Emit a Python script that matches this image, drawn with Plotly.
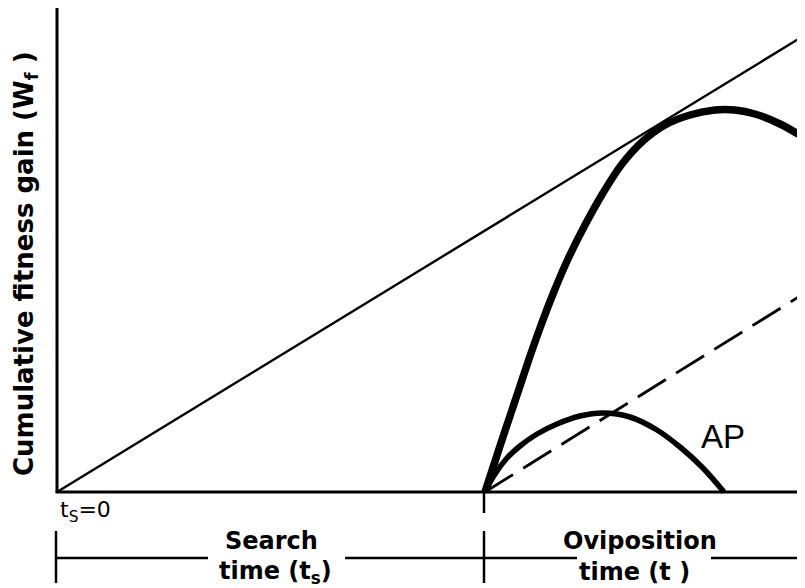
import plotly.graph_objects as go

# ---- data (arbitrary units: x = time, y = cumulative fitness gain) ----
x_end = 7.48          # right end of time axis
y_top = 4.84          # top of fitness axis
search_end = 4.27     # boundary between search time and oviposition time

# straight tangent line from t_s = 0
tangent_x = [0.0, 7.48]
tangent_y = [0.0, 4.57]

# dashed average-rate line from the start of oviposition
rate_x = [4.28, 7.48]
rate_y = [0.0, 1.99]

# thick gain curve
gain_x = [4.28, 4.43, 4.58, 4.71, 4.83, 4.96, 5.11, 5.28, 5.46, 5.65, 5.86,
          6.08, 6.33, 6.58, 6.78, 6.98, 7.23, 7.46]
gain_y = [0.00, 0.46, 0.91, 1.30, 1.64, 1.98, 2.33, 2.67, 2.99, 3.28, 3.51,
          3.67, 3.77, 3.82, 3.82, 3.78, 3.68, 3.55]

# AP curve
ap_x = [4.28, 4.38, 4.50, 4.63, 4.80, 5.00, 5.23, 5.46, 5.73, 6.00, 6.23, 6.45, 6.67]
ap_y = [0.00, 0.18, 0.34, 0.46, 0.58, 0.68, 0.76, 0.79, 0.75, 0.62, 0.45, 0.25, 0.00]

# bracket below the axis
bracket_y = -0.66
bracket_segments = [(-0.01, 1.51), (2.88, 5.20), (6.54, 7.48)]
bracket_ticks = [-0.01, search_end, 7.47]

fig = go.Figure()

fig.add_trace(go.Scatter(x=rate_x, y=rate_y, mode="lines",
                         line=dict(color="black", width=2.8, dash="33px,12px")))
fig.add_trace(go.Scatter(x=tangent_x, y=tangent_y, mode="lines",
                         line=dict(color="black", width=2.4)))
fig.add_trace(go.Scatter(x=ap_x, y=ap_y, mode="lines",
                         line=dict(color="black", width=5.5, shape="spline", smoothing=1)))
fig.add_trace(go.Scatter(x=gain_x, y=gain_y, mode="lines",
                         line=dict(color="black", width=7.5, shape="spline", smoothing=1)))

shapes = []
# axes
shapes.append(dict(type="line", x0=0, x1=0, y0=0, y1=y_top,
                   line=dict(color="black", width=3)))
shapes.append(dict(type="line", x0=-0.015, x1=x_end, y0=0, y1=0,
                   line=dict(color="black", width=3)))
# tick under the axis at the end of search
shapes.append(dict(type="line", x0=search_end, x1=search_end, y0=0, y1=-0.21,
                   line=dict(color="black", width=2.5)))
# bracket
for a, b in bracket_segments:
    shapes.append(dict(type="line", x0=a, x1=b, y0=bracket_y, y1=bracket_y,
                       line=dict(color="black", width=2.5)))
for t in bracket_ticks:
    shapes.append(dict(type="line", x0=t, x1=t, y0=-0.39, y1=-0.91,
                       line=dict(color="black", width=2.5)))

bold = dict(family="DejaVu Sans", size=24, color="black", weight="bold")

annotations = [
    dict(x=-0.32, y=2.28, text="Cumulative fitness gain (W<sub>f</sub> )",
         textangle=-90, showarrow=False, font=dict(bold, size=26),
         xanchor="center", yanchor="middle"),
    dict(x=2.14, y=-0.49, text="Search", showarrow=False, font=bold,
         xanchor="center", yanchor="middle"),
    dict(x=2.18, y=-0.80, text="time (t<sub>s</sub>)", showarrow=False, font=bold,
         xanchor="center", yanchor="middle"),
    dict(x=5.83, y=-0.49, text="Oviposition", showarrow=False, font=bold,
         xanchor="center", yanchor="middle"),
    dict(x=5.77, y=-0.80, text="time (t )", showarrow=False, font=bold,
         xanchor="center", yanchor="middle"),
    dict(x=0.28, y=-0.19, text="t<sub>S</sub>=0", showarrow=False,
         font=dict(family="DejaVu Sans", size=22, color="black"),
         xanchor="center", yanchor="middle"),
    dict(x=6.66, y=0.56, text="AP", showarrow=False,
         font=dict(family="Liberation Sans", size=33, color="black"),
         xanchor="center", yanchor="middle"),
]

# the page body adds an 8 px margin, so the figure is 8 px smaller each way
fig.update_layout(
    width=797, height=580,
    margin=dict(l=0, r=0, t=0, b=0),
    paper_bgcolor="white", plot_bgcolor="white",
    showlegend=False,
    hovermode=False,
    xaxis=dict(range=[-0.49, 7.48], visible=False, fixedrange=True),
    yaxis=dict(range=[-0.96, 4.84], visible=False, fixedrange=True),
    shapes=shapes,
    annotations=annotations,
)

fig.write_html("out.html", config=dict(displayModeBar=False))
